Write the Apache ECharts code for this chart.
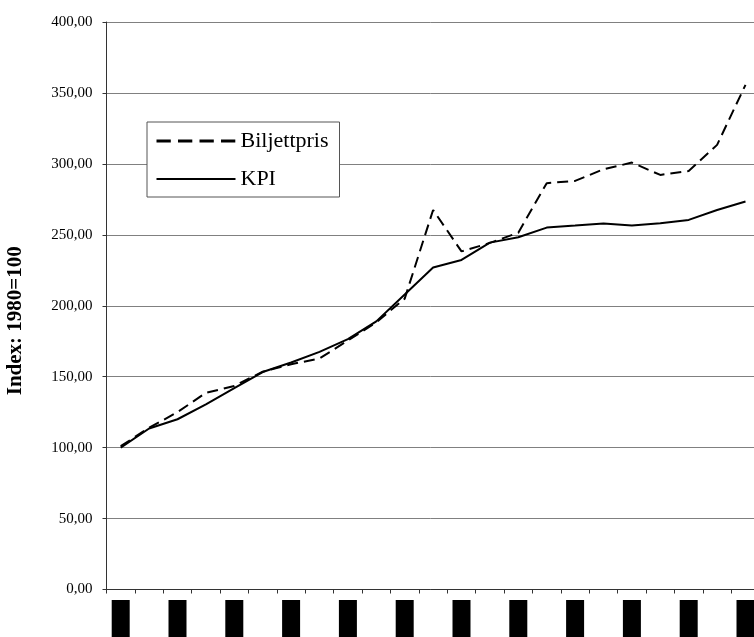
<!DOCTYPE html>
<html>
<head>
<meta charset="utf-8">
<script src="https://cdn.jsdelivr.net/npm/echarts@6/dist/echarts.min.js"></script>
<style>
html,body{margin:0;padding:0;background:#fff;}
#chart{width:754px;height:637px;}
</style>
</head>
<body>
<div id="chart"></div>
<script>
var years = ['1980','1981','1982','1983','1984','1985','1986','1987','1988','1989','1990','1991','1992','1993','1994','1995','1996','1997','1998','1999','2000','2001','2002'];
var biljettpris = [101, 114, 125, 138.6, 143.5, 153.5, 158.8, 162.8, 175.5, 188.3, 205, 267.5, 238.3, 244.3, 251.5, 286.4, 288, 296.2, 300.9, 292.2, 295, 313.4, 355.7];
var kpi = [100, 113.5, 120, 130.5, 142, 153.3, 160, 167.5, 176.5, 189, 208, 227, 232.3, 244.5, 248.3, 255.1, 256.5, 258, 256.5, 258.2, 260.5, 267.5, 273.5];
var yTicks = {min: 0, max: 400, interval: 50};
var axisTitle = 'Index: 1980=100';
var seriesNames = ['Biljettpris', 'KPI'];

var serif = "'Liberation Serif', 'Times New Roman', serif";
var chart = echarts.init(document.getElementById('chart'), null, {renderer: 'canvas'});
chart.setOption({
  animation: false,
  backgroundColor: '#fff',
  color: ['#000', '#000'],
  grid: {left: 106.5, top: 22, right: -5.7, bottom: 47.5, containLabel: false, outerBoundsMode: 'none'},
  legend: {
    orient: 'vertical',
    left: 147, top: 122,
    padding: [8, 11, 7, 8],
    itemWidth: 79, itemHeight: 14, itemGap: 16,
    borderColor: '#555', borderWidth: 1, backgroundColor: '#fff',
    selectedMode: false,
    textStyle: {fontFamily: serif, fontSize: 22, color: '#000'},
    data: [
      {name: seriesNames[0], itemStyle: {opacity: 0}, lineStyle: {width: 3, type: [14.3, 7.2], color: '#000'}},
      {name: seriesNames[1], itemStyle: {opacity: 0}, lineStyle: {width: 2, type: 'solid', color: '#000'}}
    ]
  },
  xAxis: {
    type: 'category',
    data: years,
    boundaryGap: true,
    axisLine: {lineStyle: {color: '#333', width: 1}},
    axisTick: {show: true, interval: 0, length: 4, lineStyle: {color: '#333'}},
    axisLabel: {
      interval: 1, rotate: 90, margin: 10.5,
      color: '#000', backgroundColor: '#000',
      fontFamily: serif, fontSize: 14, lineHeight: 18,
      padding: [0, 0, 0, 20]
    },
    splitLine: {show: false}
  },
  yAxis: {
    type: 'value',
    min: yTicks.min, max: yTicks.max, interval: yTicks.interval,
    name: axisTitle,
    nameLocation: 'middle',
    nameRotate: 90,
    nameGap: 80,
    nameTextStyle: {fontFamily: serif, fontSize: 21, fontWeight: 'bold', color: '#000', padding: [0, 30, 0, 0]},
    axisLine: {show: true, lineStyle: {color: '#333', width: 1}},
    axisTick: {show: true, length: 4, lineStyle: {color: '#333'}},
    axisLabel: {
      margin: 14, color: '#000', fontFamily: serif, fontSize: 15,
      formatter: function (v) { return v.toFixed(2).replace('.', ','); }
    },
    splitLine: {show: true, lineStyle: {color: '#808080', width: 1}}
  },
  series: [
    {name: seriesNames[0], type: 'line', data: biljettpris, symbol: 'none', z: 3,
     itemStyle: {color: '#000'},
     lineStyle: {color: '#000', width: 2, type: [11, 6]}},
    {name: seriesNames[1], type: 'line', data: kpi, symbol: 'none', z: 2,
     itemStyle: {color: '#000'},
     lineStyle: {color: '#000', width: 2, type: 'solid'}}
  ]
});
</script>
</body>
</html>
